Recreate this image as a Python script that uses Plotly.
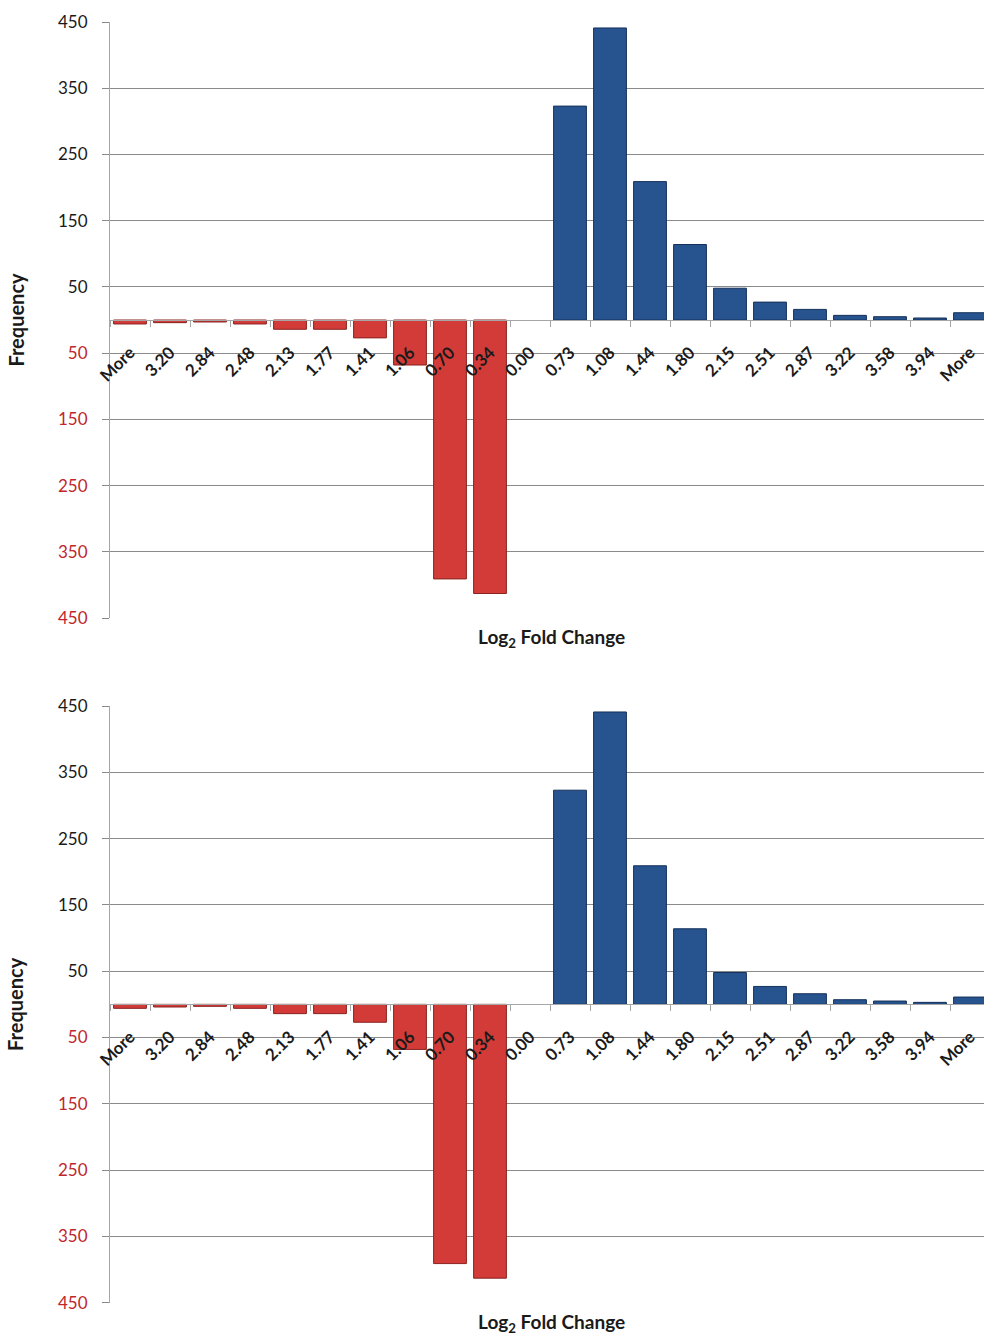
import plotly.graph_objects as go

# ---- data ----
categories = ["More", "3.20", "2.84", "2.48", "2.13", "1.77", "1.41", "1.06", "0.70", "0.34", "0.00",
              "0.73", "1.08", "1.44", "1.80", "2.15", "2.51", "2.87", "3.22", "3.58", "3.94", "More"]
down_freq = [6, 4, 3, 6, 14, 14, 27, 68, 391, 413, 0]        # first 11 categories (down-regulated)
up_freq = [323, 441, 209, 114, 48, 27, 16, 7, 5, 3, 11]      # last 11 categories (up-regulated)
y_tick_values = [-450, -350, -250, -150, -50, 50, 150, 250, 350, 450]
y_tick_labels = ["450", "350", "250", "150", "50", "50", "150", "250", "350", "450"]

RED = "#d23b37"
RED_LINE = "#8a2220"
BLUE = "#27548f"
BLUE_LINE = "#15305a"
NEG_LABEL = "#c0272d"
GRID = "#8a8a8a"
FONT = "Lato"

W, H = 984, 1335
x_pos = list(range(len(categories)))
n_down = len(down_freq)

down_x = [x for x, v in zip(x_pos[:n_down], down_freq) if v != 0]
down_y = [-v for v in down_freq if v != 0]
up_x = [x for x, v in zip(x_pos[n_down:], up_freq) if v != 0]
up_y = [v for v in up_freq if v != 0]

ticktext = []
for v, t in zip(y_tick_values, y_tick_labels):
    if v < 0:
        ticktext.append(f"<span style='color:{NEG_LABEL}'>{t}</span>")
    else:
        ticktext.append(t)

# panel pixel geometry (top of 450 line, bottom of -450 line)
panels = [(22, 618), (706, 1302.7)]

fig = go.Figure()
layout = dict(
    width=W, height=H,
    margin=dict(l=110, r=0, t=0, b=0, autoexpand=False),
    paper_bgcolor="white", plot_bgcolor="white",
    showlegend=False, barmode="overlay",
    font=dict(family=FONT, color="#1a1a1a"),
)

annotations = []
for i, (ptop, pbot) in enumerate(panels):
    sfx = "" if i == 0 else str(i + 1)
    xa, ya = "x" + sfx, "y" + sfx
    fig.add_trace(go.Bar(
        x=down_x, y=down_y, xaxis=xa, yaxis=ya,
        marker=dict(color=RED, line=dict(color=RED_LINE, width=1)), width=0.82,
    ))
    fig.add_trace(go.Bar(
        x=up_x, y=up_y, xaxis=xa, yaxis=ya,
        marker=dict(color=BLUE, line=dict(color=BLUE_LINE, width=1)), width=0.82,
    ))
    d0 = 1 - pbot / H
    d1 = 1 - ptop / H
    layout["yaxis" + sfx] = dict(
        domain=[d0, d1], range=[-450, 450], anchor=xa, automargin=False,
        tickmode="array", tickvals=y_tick_values, ticktext=ticktext,
        tickfont=dict(family=FONT, size=17, color="#1a1a1a"),
        ticks="outside", ticklen=7, tickcolor=GRID,
        ticklabelstandoff=11,
        showgrid=True, gridcolor=GRID, gridwidth=1,
        zeroline=False, showline=True, linecolor="#a6a6a6", linewidth=1,
        title=dict(text="Frequency", font=dict(family=FONT, size=20, weight="bold", color="#1a1a1a"),
                   standoff=28),
    )
    layout["xaxis" + sfx] = dict(
        domain=[0, 1], range=[-0.5, 21.35], anchor="free", position=(d0 + d1) / 2, automargin=False,
        tickmode="array", tickvals=x_pos, ticktext=categories, tickangle=-45,
        tickfont=dict(family=FONT, size=17, weight="bold", color="#1a1a1a"),
        ticks="outside", ticklen=15, tickcolor="rgba(0,0,0,0)",
        minor=dict(tickmode="array", tickvals=[p - 0.5 for p in x_pos] + [x_pos[-1] + 0.5],
                   ticks="outside", ticklen=6, tickcolor="#a6a6a6", showgrid=False),
        showgrid=False, zeroline=False, showline=True, linecolor="#a6a6a6", linewidth=1,
    )
    annotations.append(dict(
        text="Log<sub>2</sub> Fold Change", xref=xa + " domain", yref=ya + " domain",
        x=0.505, y=-20 / (pbot - ptop), xanchor="center", yanchor="middle", showarrow=False,
        font=dict(family=FONT, size=19, weight="bold", color="#1a1a1a"),
    ))

layout["annotations"] = annotations
fig.update_layout(**layout)
fig.write_html("out.html", config={"displayModeBar": False},
               post_script="document.body.style.margin='0';document.body.style.padding='0';")
